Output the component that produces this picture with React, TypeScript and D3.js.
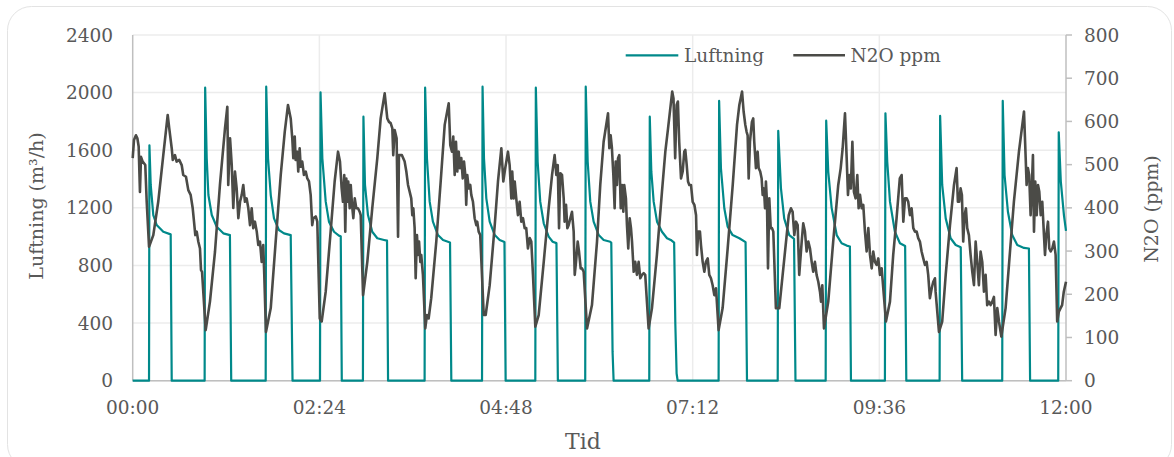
import React from "react";
import * as d3 from "d3";

// minutes since 00:00 -> m3/h
const luftning: [number, number][] = [
  [0, 0],
  [12.6, 0], [12.9, 1634], [13.9, 1359], [15.9, 1150], [18.5, 1081], [23.6, 1034], [29.3, 1016], [30.1, 0],
  [55.5, 0], [55.9, 2034], [57.1, 1544], [58.4, 1289], [61.0, 1150], [64.8, 1069], [69.9, 1023], [75.0, 1011], [76.0, 0],
  [102.6, 0], [103.0, 2041], [104.4, 1544], [106.5, 1289], [109.0, 1127], [112.8, 1046], [116.7, 1023], [121.9, 1011], [123.3, 0],
  [144.5, 0], [144.9, 2002], [146.3, 1544], [148.9, 1243], [151.4, 1104], [155.3, 1034], [159.1, 1007], [160.5, 1003], [161.3, 0],
  [177.6, 0], [178.0, 1833], [179.2, 1359], [181.5, 1150], [184.8, 1034], [188.7, 989], [193.9, 977], [196.2, 972], [197.0, 0],
  [225.2, 0], [225.6, 2034], [227.0, 1544], [229.1, 1243], [231.6, 1104], [235.5, 1011], [239.4, 977], [244.8, 960], [245.8, 0],
  [269.5, 0], [269.9, 2041], [271.0, 1544], [272.8, 1266], [275.4, 1104], [279.3, 1011], [283.1, 977], [286.8, 963], [287.7, 0],
  [310.6, 0], [311.0, 2034], [312.4, 1520], [314.4, 1243], [317.1, 1093], [320.9, 1000], [324.0, 965], [326.9, 955], [328.0, 0],
  [349.1, 0], [349.5, 2041], [351.0, 1520], [353.0, 1243], [355.6, 1104], [359.5, 1011], [363.3, 977], [368.4, 965], [369.2, 958], [370.2, 200], [371.0, 0],
  [398.5, 0], [398.9, 1833], [400.1, 1451], [401.9, 1243], [404.5, 1104], [408.3, 1034], [412.2, 989], [415.1, 977], [417.7, 958], [418.6, 400], [419.6, 50], [420.4, 0],
  [452.0, 0], [452.4, 1942], [453.8, 1475], [456.4, 1197], [459.0, 1069], [462.8, 1011], [468.0, 989], [472.8, 962], [473.9, 0],
  [497.6, 0], [498.0, 1734], [500.1, 1336], [502.6, 1127], [506.5, 1011], [510.2, 985], [511.3, 0],
  [534.6, 0], [535.0, 1805], [536.6, 1450], [539.2, 1200], [543.1, 1011], [546.9, 954], [550.8, 938], [553.3, 932], [554.1, 0],
  [580.3, 0], [580.7, 1856], [582.1, 1520], [584.2, 1243], [588.0, 1034], [591.9, 954], [595.9, 935], [596.8, 0],
  [622.5, 0], [622.9, 1838], [624.5, 1359], [627.2, 1127], [631.0, 989], [634.9, 942], [638.8, 927], [639.9, 0],
  [670.8, 0], [671.2, 1942], [672.6, 1428], [675.2, 1173], [678.5, 1011], [682.4, 942], [687.6, 922], [691.4, 918], [692.3, 0],
  [714.0, 0], [714.4, 1724], [716.0, 1382], [718.4, 1150], [720, 1040],
];

// minutes since 00:00 -> ppm
const n2o: [number, number][] = [
  [0, 515], [1.0, 557], [2.5, 568], [3.6, 561], [4.6, 542], [5.6, 437], [6.4, 518], [7.7, 507], [8.7, 503], [9.7, 499], [10.8, 414], [12.6, 310],
  [15.9, 337], [19.7, 414], [23.6, 522], [27.0, 615], [28.2, 584], [30.1, 538], [30.9, 511], [32.6, 522], [33.9, 507], [35.9, 511], [37.8, 499],
  [39.0, 476], [41.1, 472], [42.9, 441], [44.7, 430], [46.3, 399], [47.3, 368], [48.3, 337], [49.4, 345], [50.6, 322], [51.9, 306], [52.7, 256],
  [53.5, 252], [56.3, 117], [59.6, 183], [63.5, 299], [67.3, 453], [71.2, 584], [73.0, 634], [73.7, 453], [75.1, 561], [76.4, 499], [77.6, 400],
  [78.9, 484], [80.2, 445], [81.5, 376], [82.8, 414], [84.1, 430], [85.3, 453], [86.6, 414], [87.9, 422], [89.2, 399], [90.5, 360], [91.8, 399],
  [93.0, 353], [94.3, 368], [95.7, 345], [96.9, 314], [98.2, 322], [99.5, 275], [100.7, 314], [101.5, 245], [102.8, 113],
  [106.5, 168], [110.3, 322], [114.2, 476], [117.3, 576], [119.8, 638], [121.9, 607], [123.1, 561], [123.9, 515], [125.0, 565], [125.7, 511],
  [127.0, 530], [127.7, 484], [128.8, 538], [129.6, 495], [130.8, 507], [132.1, 476], [133.5, 484], [134.7, 468], [136.0, 461], [137.3, 430],
  [138.5, 360], [139.3, 376], [141.2, 380], [142.4, 368], [144.3, 144], [145.8, 137], [148.9, 206], [152.7, 345], [155.8, 461], [158.4, 530],
  [159.9, 507], [161.2, 445], [162.2, 414], [163.2, 476], [164.0, 345], [164.8, 468], [165.6, 414], [166.3, 461], [167.4, 399], [168.2, 453],
  [169.2, 407], [170.2, 376], [171.3, 422], [172.5, 399], [173.8, 399], [175.1, 391], [175.9, 383], [177.7, 198], [178.4, 214], [181.0, 275],
  [184.8, 399], [188.7, 515], [191.3, 607], [194.4, 665], [196.4, 607], [197.7, 599], [199.0, 596], [200.3, 584], [201.0, 522], [202.1, 580],
  [203.6, 561], [204.7, 333], [205.4, 522], [207.7, 522], [209.8, 507], [211.1, 484], [212.4, 453], [213.7, 437], [214.9, 422], [215.7, 383],
  [216.5, 399], [217.5, 353], [218.3, 237], [219.3, 337], [220.1, 291], [220.9, 322], [221.9, 275], [222.6, 291], [223.9, 245], [225.7, 121],
  [227.0, 152], [228.3, 144], [230.3, 191], [234.2, 322], [237.6, 461], [240.7, 592], [243.8, 642], [245.0, 545], [246.3, 530], [247.3, 565],
  [248.4, 476], [249.4, 553], [250.4, 484], [251.5, 530], [252.5, 492], [253.5, 515], [254.6, 468], [255.6, 507], [256.6, 476], [257.3, 407],
  [258.1, 476], [259.2, 445], [260.4, 453], [261.2, 430], [262.5, 414], [263.8, 376], [265.1, 360], [265.8, 368], [266.9, 345], [268.1, 337],
  [270.8, 152], [272.3, 152], [275.4, 221], [279.3, 360], [281.8, 461], [284.4, 538], [285.9, 461], [287.4, 492], [289.5, 530], [290.8, 499],
  [292.1, 422], [292.8, 484], [293.9, 422], [294.7, 461], [295.9, 422], [297.2, 383], [298.5, 414], [299.8, 368], [301.1, 376], [302.4, 353],
  [303.6, 353], [304.9, 306], [306.3, 330], [307.5, 322], [308.8, 245], [310.6, 125], [313.2, 152], [317.1, 275], [320.9, 399], [323.5, 476],
  [325.5, 522], [326.8, 476], [327.9, 499], [328.9, 353], [329.9, 480], [331.2, 476], [332.5, 422], [333.2, 368], [334.3, 407], [335.3, 353],
  [336.3, 360], [337.6, 376], [338.9, 391], [340.2, 345], [341.0, 245], [342.0, 275], [343.3, 322], [344.3, 299], [345.6, 260], [346.6, 260],
  [347.9, 252], [350.5, 121], [354.3, 175], [358.2, 322], [360.7, 453], [363.3, 553], [366.7, 619], [367.7, 538], [368.7, 568], [369.7, 538],
  [370.8, 476], [371.8, 399], [372.6, 507], [373.6, 453], [374.4, 515], [375.4, 522], [376.5, 399], [377.5, 453], [378.5, 391], [379.2, 453],
  [380.5, 422], [381.3, 360], [382.3, 306], [383.4, 376], [384.4, 353], [385.2, 322], [386.5, 252], [387.7, 275], [389.0, 245], [390.3, 275],
  [391.6, 237], [392.9, 245], [394.2, 249], [395.4, 245], [398.0, 121], [400.6, 168], [404.4, 291], [408.3, 437], [410.9, 530], [413.0, 584],
  [416.2, 669], [417.2, 653], [418.5, 515], [419.6, 638], [420.6, 646], [421.6, 553], [423.0, 468], [424.3, 484], [425.5, 530], [426.3, 534],
  [427.4, 499], [428.4, 461], [429.4, 453], [430.7, 453], [432.0, 414], [433.3, 407], [434.6, 383], [435.3, 291], [436.3, 345], [437.6, 345],
  [438.4, 314], [439.7, 275], [441.0, 252], [442.2, 275], [443.6, 283], [444.8, 245], [446.1, 237], [447.4, 221], [448.7, 198], [450.0, 214],
  [452.0, 117], [455.1, 168], [459.0, 306], [462.9, 453], [466.2, 592], [468.0, 638], [470.1, 669], [471.3, 623], [472.6, 592], [473.6, 576],
  [474.4, 568], [475.2, 468], [476.2, 553], [477.7, 599], [478.7, 607], [479.5, 553], [480.8, 492], [482.1, 530], [482.9, 492], [484.1, 484],
  [485.2, 468], [486.0, 430], [487.0, 445], [487.8, 399], [488.5, 461], [489.3, 414], [490.1, 260], [491.1, 422], [492.2, 353], [493.2, 353],
  [494.2, 345], [496.2, 168], [498.8, 168], [502.7, 283], [506.1, 383], [507.8, 399], [509.1, 391], [510.4, 337], [511.7, 368], [513.0, 360],
  [514.2, 245], [516.1, 322], [517.3, 364], [518.6, 345], [519.9, 299], [521.2, 322], [522.5, 306], [523.8, 275], [525.0, 252], [526.3, 275],
  [527.6, 245], [528.9, 229], [530.2, 206], [531.0, 183], [532.0, 221], [533.3, 121], [536.6, 183], [540.4, 322], [544.3, 453], [546.2, 492],
  [547.7, 538], [549.5, 619], [550.8, 515], [551.8, 430], [552.9, 476], [554.0, 445], [555.2, 553], [556.4, 437], [557.7, 422], [559.0, 476],
  [560.0, 399], [561.1, 430], [562.4, 399], [563.6, 407], [564.9, 345], [566.2, 299], [567.5, 353], [568.8, 291], [570.1, 260], [571.3, 299],
  [572.6, 275], [573.9, 268], [575.2, 283], [576.5, 245], [577.8, 260], [581.1, 137], [584.2, 183], [586.7, 291], [589.3, 376], [591.8, 468],
  [593.2, 476], [594.5, 368], [595.8, 422], [597.1, 422], [598.3, 414], [599.6, 383], [600.9, 399], [602.2, 353], [603.5, 345], [604.8, 345],
  [606.0, 330], [607.3, 322], [608.6, 299], [609.9, 283], [611.2, 268], [612.5, 275], [613.7, 245], [615.0, 191], [616.4, 214], [617.6, 229],
  [618.9, 237], [619.4, 206], [622.0, 113], [624.5, 137], [627.2, 245], [630.5, 360], [633.6, 453], [635.6, 492], [636.6, 414], [637.6, 414],
  [638.7, 445], [639.7, 430], [640.7, 322], [641.8, 383], [642.8, 399], [643.8, 353], [645.1, 337], [646.4, 291], [647.7, 252], [649.0, 221],
  [650.3, 322], [651.5, 275], [652.8, 221], [654.1, 299], [655.4, 275], [656.7, 206], [658.0, 245], [659.2, 175], [660.6, 183], [661.9, 175],
  [663.1, 183], [664.4, 194], [665.7, 106], [667.0, 168], [668.3, 137], [670.1, 102], [673.4, 168], [676.8, 299], [679.8, 414], [683.7, 530],
  [686.3, 592], [687.6, 623], [688.9, 515], [689.6, 453], [690.6, 492], [691.6, 476], [692.7, 383], [693.7, 453], [694.5, 522], [695.3, 345],
  [696.3, 461], [697.4, 383], [698.4, 453], [699.4, 437], [700.5, 383], [701.7, 414], [703.0, 337], [703.8, 291], [704.8, 337], [706.1, 368],
  [707.1, 306], [708.2, 299], [709.4, 306], [710.7, 322], [712.0, 291], [713.2, 137], [714.5, 160], [715.8, 168], [717.0, 175], [718.3, 206],
  [720, 229],
];

const leftTicks = [0, 400, 800, 1200, 1600, 2000, 2400];
const rightTicks = [0, 100, 200, 300, 400, 500, 600, 700, 800];
const timeTicks = [0, 144, 288, 432, 576, 720];

const W = 1174, H = 457;
const FONT = "'DejaVu Serif', Georgia, serif";
const TEXT = "#595959";
const TEAL = "#00898a";
const GREY = "#4b4b47";

const fmtTime = (m: number) =>
  `${String(Math.floor(m / 60)).padStart(2, "0")}:${String(m % 60).padStart(2, "0")}`;

export default function App() {
  const x = d3.scaleLinear().domain([0, 720]).range([132.7, 1066]);
  const yL = d3.scaleLinear().domain([0, 2400]).range([380.7, 35]);
  const yR = d3.scaleLinear().domain([0, 800]).range([380.7, 35]);

  const lineL = d3.line<[number, number]>().x((d) => x(d[0])).y((d) => yL(d[1]));
  const lineR = d3.line<[number, number]>().x((d) => x(d[0])).y((d) => yR(d[1]));

  const [x0, x1] = x.range();
  const [yb, yt] = yL.range();

  return (
    <svg width={W} height={H} style={{ position: "absolute", left: 0, top: 0, background: "#fff" }} fontFamily={FONT}>
      <rect x={7.5} y={6.5} width={1164} height={462} rx={24} fill="#fff" stroke="#e3e3e3" />

      {/* grid */}
      {leftTicks.map((t) => (
        <line key={"h" + t} x1={x0} x2={x1} y1={yL(t)} y2={yL(t)} stroke="#ececec" strokeWidth={1.5} />
      ))}
      {timeTicks.slice(1, -1).map((t) => (
        <line key={"v" + t} x1={x(t)} x2={x(t)} y1={yt} y2={yb} stroke="#ececec" strokeWidth={1.5} />
      ))}

      {/* axes */}
      <line x1={x0} x2={x0} y1={yt} y2={yb} stroke="#bfbfbf" strokeWidth={1.5} />
      <line x1={x1} x2={x1} y1={yt} y2={yb} stroke="#bfbfbf" strokeWidth={1.5} />
      <line x1={x0} x2={x1} y1={yb} y2={yb} stroke="#bfbfbf" strokeWidth={1.5} />
      {rightTicks.map((t) => (
        <line key={"rt" + t} x1={x1} x2={x1 + 6} y1={yR(t)} y2={yR(t)} stroke="#bfbfbf" strokeWidth={1.5} />
      ))}

      {/* series */}
      <path d={lineL(luftning) ?? ""} fill="none" stroke={TEAL} strokeWidth={2.2} strokeLinejoin="round" />
      <path d={lineR(n2o) ?? ""} fill="none" stroke={GREY} strokeWidth={2.6} strokeLinejoin="round" />

      {/* tick labels */}
      <g fontSize={18.5} fill={TEXT}>
        {leftTicks.map((t) => (
          <text key={"lt" + t} x={113} y={yL(t)} textAnchor="end" dominantBaseline="central">{t}</text>
        ))}
        {rightTicks.map((t) => (
          <text key={"rl" + t} x={1084} y={yR(t)} dominantBaseline="central">{t}</text>
        ))}
        {timeTicks.map((t) => (
          <text key={"xt" + t} x={x(t)} y={407} textAnchor="middle" dominantBaseline="central">{fmtTime(t)}</text>
        ))}
      </g>

      {/* axis titles */}
      <text transform="translate(36,206) rotate(-90)" textAnchor="middle" dominantBaseline="central" fontSize={19} fill={TEXT}>
        Luftning (m³/h)
      </text>
      <text transform="translate(1151,209) rotate(-90)" textAnchor="middle" dominantBaseline="central" fontSize={19} fill={TEXT}>
        N2O (ppm)
      </text>
      <text x={583} y={441} textAnchor="middle" dominantBaseline="central" fontSize={22} fill={TEXT}>Tid</text>

      {/* legend */}
      <g fontSize={18.5} fill={TEXT}>
        <line x1={625.7} x2={678.3} y1={55.3} y2={55.3} stroke={TEAL} strokeWidth={2.2} />
        <text x={684} y={55.3} dominantBaseline="central">Luftning</text>
        <line x1={793.3} x2={845} y1={55.3} y2={55.3} stroke={GREY} strokeWidth={2.6} />
        <text x={850.5} y={55.3} dominantBaseline="central">N2O ppm</text>
      </g>
    </svg>
  );
}
